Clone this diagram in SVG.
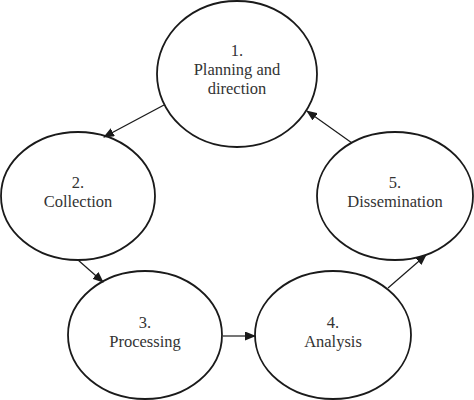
<svg xmlns="http://www.w3.org/2000/svg" width="474" height="400" viewBox="0 0 474 400">
<style>
.node ellipse{fill:#fff;stroke:#1a1a1a;stroke-width:1.8}
.node text{font-family:"Liberation Serif","Times New Roman",serif;font-size:16.5px;fill:#333;text-anchor:middle}
.conn line{stroke:#1a1a1a;stroke-width:1.2;marker-end:url(#ah)}
</style>
<defs>
<marker id="ah" markerWidth="11" markerHeight="9" refX="10" refY="4.5" orient="auto" markerUnits="userSpaceOnUse">
<path d="M0,0 L11,4.5 L0,9 Z" fill="#1a1a1a"/>
</marker>
</defs>
<rect width="474" height="400" fill="#fff"/>
<g id="n1" class="node">
<ellipse cx="237" cy="74" rx="80" ry="73"/>
<text x="237" y="56">1.</text>
<text x="237" y="75">Planning and</text>
<text x="237" y="94">direction</text>
</g>
<g id="n2" class="node">
<ellipse cx="78" cy="196" rx="77" ry="64"/>
<text x="78" y="188">2.</text>
<text x="78" y="207">Collection</text>
</g>
<g id="n3" class="node">
<ellipse cx="145" cy="335" rx="77" ry="64"/>
<text x="145" y="328">3.</text>
<text x="145" y="347">Processing</text>
</g>
<g id="n4" class="node">
<ellipse cx="333" cy="335" rx="78" ry="64"/>
<text x="333" y="328">4.</text>
<text x="333" y="347">Analysis</text>
</g>
<g id="n5" class="node">
<ellipse cx="395" cy="196" rx="78" ry="64"/>
<text x="395" y="188">5.</text>
<text x="395" y="207">Dissemination</text>
</g>
<g id="connectors" class="conn">
<line x1="164" y1="105" x2="104" y2="137"/>
<line x1="78" y1="260" x2="103" y2="282"/>
<line x1="223" y1="336" x2="255" y2="336"/>
<line x1="388" y1="288" x2="426" y2="255"/>
<line x1="352" y1="143" x2="307" y2="111"/>
</g>
</svg>
